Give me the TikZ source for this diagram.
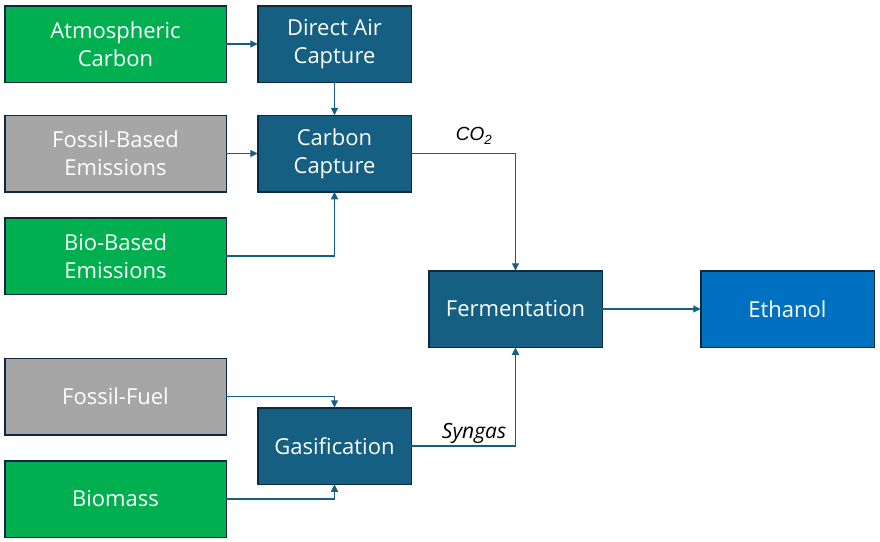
\documentclass[tikz,border=0pt]{standalone}
\usepackage{fontspec}
\setmainfont{Open Sans}
\newfontfamily\lblfont{Liberation Sans}
\usetikzlibrary{arrows.meta}
\definecolor{cgreen}{HTML}{00B050}
\definecolor{cgray}{HTML}{A6A6A6}
\definecolor{cdark}{HTML}{156082}
\definecolor{ceth}{HTML}{0070C0}
\definecolor{cbord}{HTML}{0E2841}
\tikzset{
  box/.style={draw=cbord, line width=1.5pt, text=white, align=center,
    font=\fontsize{22}{28}\selectfont, inner sep=0pt, outer sep=0pt,
    minimum height=76.5pt},
  srcbox/.style={box, minimum width=221.5pt},
  procbox/.style={box, fill=cdark, minimum width=153.5pt},
  wide/.style={box, minimum width=173.5pt},
  conn/.style={draw=cdark, line width=1.4pt, -{Triangle[length=7.5pt,width=7pt]}},
  lbl/.style={text=black, inner sep=0pt}
}
\begin{document}
\begin{tikzpicture}[x=1pt,y=-1pt]
\useasboundingbox (0,0) rectangle (880,541);
\node[srcbox, fill=cgreen] (atm) at (115.5,44) {Atmospheric\\Carbon};
\node[procbox] (dac) at (334.5,44) {Direct Air\\Capture};
\node[srcbox, fill=cgray] (fos) at (115.5,153.5) {Fossil-Based\\Emissions};
\node[procbox] (cc) at (334.5,153.5) {Carbon\\Capture};
\node[srcbox, fill=cgreen] (bio) at (115.5,256) {Bio-Based\\Emissions};
\node[wide, fill=cdark] (ferm) at (515.5,309) {Fermentation};
\node[wide, fill=ceth] (eth) at (787.5,309) {Ethanol};
\node[srcbox, fill=cgray] (ff) at (115.5,396.5) {Fossil-Fuel};
\node[procbox] (gas) at (334.5,446) {Gasification};
\node[srcbox, fill=cgreen] (bm) at (115.5,499) {Biomass};
\draw[conn] (atm.east) -- (dac.west);
\draw[conn] (dac.south) -- (cc.north);
\draw[conn] (fos.east) -- (cc.west);
\draw[conn] (bio.east) -| (cc.south);
\draw[conn] (cc.east) -| (ferm.north);
\draw[conn] (gas.east) -| (ferm.south);
\draw[conn] (ff.east) -| (gas.north);
\draw[conn] (bm.east) -| (gas.south);
\draw[conn] (ferm.east) -- (eth.west);
\node[lbl, font=\lblfont\fontsize{19}{20}\selectfont\itshape] (co2) at (474,136) {CO\textsubscript{2}};
\node[lbl, font=\fontsize{21}{22}\selectfont\itshape] (syn) at (474,433) {Syngas};
\end{tikzpicture}
\end{document}
